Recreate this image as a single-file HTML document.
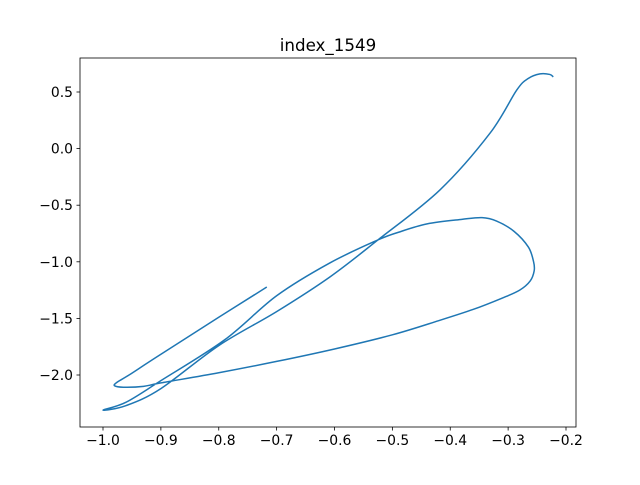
<!DOCTYPE html>
<html><head><meta charset="utf-8"><style>
body{margin:0;background:#fff}
svg text{font-family:"DejaVu Sans","Liberation Sans",sans-serif;font-size:13.9px;fill:#000}
</style></head><body>
<svg width="640" height="480">
<rect width="640" height="480" fill="#fff"/>
<text x="328" y="51" text-anchor="middle" style="font-size:16.7px">index_1549</text>
<g id="plot"></g>
<rect x="80" y="58" width="496" height="369" fill="none" stroke="#000" stroke-width="0.8"/>
<g id="xt"></g><g id="yt"></g>
</svg>
<script>
const xTicks=[-1.0,-0.9,-0.8,-0.7,-0.6,-0.5,-0.4,-0.3,-0.2];
const xLabels=["−1.0","−0.9","−0.8","−0.7","−0.6","−0.5","−0.4","−0.3","−0.2"];
const yTicks=[0.5,0.0,-0.5,-1.0,-1.5,-2.0];
const yLabels=["0.5","0.0","−0.5","−1.0","−1.5","−2.0"];
const xs=[-0.717,-0.8,-0.907,-0.955,-0.976,-0.98,-0.965,-0.93,-0.9,-0.8,-0.7,-0.6,-0.5,-0.42,-0.36,-0.31,-0.28,-0.262,-0.255,-0.256,-0.265,-0.29,-0.32,-0.345,-0.38,-0.44,-0.49,-0.525,-0.608,-0.7,-0.79,-0.9,-0.96,-1.0,-0.96,-0.9,-0.8,-0.7,-0.608,-0.525,-0.418,-0.331,-0.285,-0.265,-0.245,-0.228,-0.222];
const ys=[-1.223,-1.49,-1.84,-2.0,-2.065,-2.095,-2.108,-2.1,-2.07,-1.98,-1.88,-1.77,-1.645,-1.52,-1.42,-1.32,-1.25,-1.17,-1.08,-1.0,-0.87,-0.73,-0.64,-0.61,-0.625,-0.665,-0.74,-0.807,-1.01,-1.3,-1.69,-2.05,-2.24,-2.31,-2.27,-2.12,-1.74,-1.44,-1.134,-0.807,-0.366,0.138,0.518,0.62,0.66,0.655,0.633];
const X=v=>103+(v+1)/0.8*463, Y=v=>92+(0.5-v)/2.5*283;
const ns="http://www.w3.org/2000/svg";
const P=xs.map((x,i)=>[X(x),Y(ys[i])]);
let d="M"+P[0][0]+","+P[0][1];
for(let i=0;i<P.length-1;i++){const p0=P[Math.max(i-1,0)],p1=P[i],p2=P[i+1],p3=P[Math.min(i+2,P.length-1)];
 d+=` C${p1[0]+(p2[0]-p0[0])/6},${p1[1]+(p2[1]-p0[1])/6} ${p2[0]-(p3[0]-p1[0])/6},${p2[1]-(p3[1]-p1[1])/6} ${p2[0]},${p2[1]}`;}
const p=document.createElementNS(ns,"path");


p.setAttribute("d",d);
p.setAttribute("fill","none");p.setAttribute("stroke","#1f77b4");p.setAttribute("stroke-width","1.5");p.setAttribute("stroke-linejoin","round");
document.getElementById("plot").appendChild(p);
xTicks.forEach((t,i)=>{const x=X(t);
 const l=document.createElementNS(ns,"line");
 
 
 l.setAttribute("x1",x);l.setAttribute("x2",x);l.setAttribute("y1",427);l.setAttribute("y2",430.5);l.setAttribute("stroke","#000");l.setAttribute("stroke-width","0.8");
 document.getElementById("xt").appendChild(l);
 const tx=document.createElementNS(ns,"text");
 
 
 tx.setAttribute("x",x);tx.setAttribute("y",445);tx.setAttribute("text-anchor","middle");tx.textContent=xLabels[i];
 document.getElementById("xt").appendChild(tx);});
yTicks.forEach((t,i)=>{const y=Y(t);
 const l=document.createElementNS(ns,"line");
 
 
 l.setAttribute("x1",76.5);l.setAttribute("x2",80);l.setAttribute("y1",y);l.setAttribute("y2",y);l.setAttribute("stroke","#000");l.setAttribute("stroke-width","0.8");
 document.getElementById("yt").appendChild(l);
 const tx=document.createElementNS(ns,"text");
 
 
 tx.setAttribute("x",73);tx.setAttribute("y",y+5);tx.setAttribute("text-anchor","end");tx.textContent=yLabels[i];
 document.getElementById("yt").appendChild(tx);});
</script>
</body></html>
